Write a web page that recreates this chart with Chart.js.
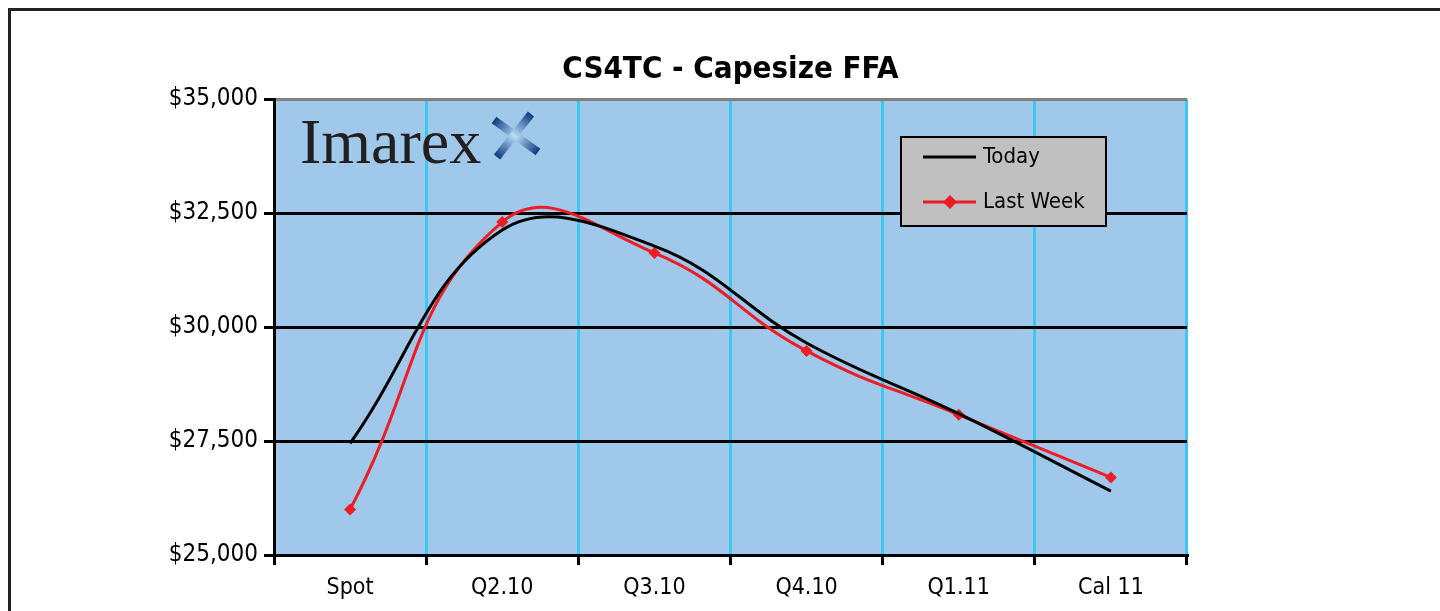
<!DOCTYPE html>
<html>
<head>
<meta charset="utf-8">
<script src="https://cdn.jsdelivr.net/npm/chart.js@4"></script>
<style>
  html, body { margin: 0; padding: 0; background: #ffffff; }
  #wrap { width: 1440px; height: 611px; position: relative; }
</style>
</head>
<body>
<div id="wrap"><canvas id="ffa-chart" width="1440" height="611"></canvas></div>
<script>
// ===== CS4TC - Capesize FFA curve =====

const categories = ['Spot', 'Q2.10', 'Q3.10', 'Q4.10', 'Q1.11', 'Cal 11'];
const todayValues = [27450, 32125, 31775, 29650, 28100, 26400];
const lastWeekValues = [26000, 32300, 31625, 29475, 28075, 26700];
const yTicks = [25000, 27500, 30000, 32500, 35000];
const chartTitle = 'CS4TC - Capesize FFA';

const NARROW = "'Liberation Sans Narrow', 'DejaVu Sans Condensed', 'Arial Narrow', sans-serif";
const RED = '#ee1c24';

// fond bleu + cadre exterieur
const backdrop = {
    id: 'backdrop',
    beforeDraw(chart) {
        const { ctx, chartArea: a } = chart;
        ctx.save();
        ctx.fillStyle = '#a0c8ea';
        ctx.fillRect(a.left, a.top, a.right - a.left, a.bottom - a.top);
        ctx.strokeStyle = '#222222';
        ctx.lineWidth = 3;
        ctx.beginPath();
        ctx.moveTo(9.5, 640);
        ctx.lineTo(9.5, 9.5);
        ctx.lineTo(1440, 9.5);
        ctx.stroke();
        // titre centre sur la zone du graphe
        ctx.fillStyle = '#000';
        ctx.font = 'bold 31px ' + NARROW;
        ctx.textAlign = 'center';
        ctx.textBaseline = 'middle';
        ctx.fillText(chartTitle, (a.left + a.right) / 2, 70);
        ctx.restore();
    }
};

function crossArm(ctx, x1, y1, x2, y2) {
    const g = ctx.createLinearGradient(x1, y1, x2, y2);
    g.addColorStop(0, '#0c3b80');
    g.addColorStop(0.5, '#b8dcf6');
    g.addColorStop(1, '#0c3b80');
    ctx.strokeStyle = g;
    ctx.beginPath();
    ctx.moveTo(x1, y1);
    ctx.lineTo(x2, y2);
    ctx.stroke();
}

// logo Imarex + legende
const overlay = {
    id: 'overlay',
    afterDraw(chart) {
        const ctx = chart.ctx;
        ctx.save();
        ctx.fillStyle = '#231f20';
        ctx.font = "64px 'Liberation Serif', 'DejaVu Serif', serif";
        ctx.textBaseline = 'alphabetic';
        ctx.textAlign = 'left';
        ctx.fillText('Imarex', 300, 163);

        // la croix
        ctx.lineCap = 'butt';
        ctx.lineWidth = 8;
        crossArm(ctx, 494, 120, 538, 152);
        crossArm(ctx, 531, 114, 497, 157);

        // legende
        ctx.fillStyle = '#c0c0c0';
        ctx.fillRect(900, 136, 207, 91);
        ctx.strokeStyle = '#000';
        ctx.lineWidth = 2;
        ctx.strokeRect(901, 137, 205, 89);

        ctx.lineWidth = 3;
        ctx.strokeStyle = '#000';
        ctx.beginPath();
        ctx.moveTo(923, 157); ctx.lineTo(976, 157);
        ctx.stroke();
        ctx.strokeStyle = RED;
        ctx.beginPath();
        ctx.moveTo(923, 202); ctx.lineTo(976, 202);
        ctx.stroke();
        ctx.fillStyle = RED;
        ctx.beginPath();
        ctx.moveTo(950, 195); ctx.lineTo(957, 202); ctx.lineTo(950, 209); ctx.lineTo(943, 202);
        ctx.closePath();
        ctx.fill();

        ctx.fillStyle = '#000';
        ctx.font = '22px ' + NARROW;
        ctx.textBaseline = 'middle';
        ctx.fillText('Today', 983, 157);
        ctx.fillText('Last Week', 983, 202);
        ctx.restore();
    }
};

new Chart(document.getElementById('ffa-chart'), {
    type: 'line',
    data: {
        labels: categories,
        datasets: [
            {
                label: 'Today',
                data: todayValues,
                borderColor: '#000000',
                borderWidth: 3,
                tension: 0.4,
                pointRadius: 0,
                fill: false
            },
            {
                label: 'Last Week',
                data: lastWeekValues,
                borderColor: RED,
                backgroundColor: RED,
                borderWidth: 3,
                tension: 0.45,
                pointStyle: 'rectRot',
                pointRadius: 6,
                pointBorderWidth: 0,
                fill: false
            }
        ]
    },
    options: {
        responsive: false,
        animation: false,
        layout: { padding: { left: 0, right: 253, top: 99, bottom: 0 } },
        plugins: {
            legend: { display: false },
            tooltip: { enabled: false },
            title: { display: false }
        },
        scales: {
            x: {
                offset: true,
                grid: {
                    offset: true,
                    lineWidth: 3,
                    color: (c) => c.index === 0 ? 'rgba(0,0,0,0)' : (c.index === categories.length ? '#808080' : '#3cc8f2'),
                    tickColor: '#000',
                    tickLength: 10
                },
                border: { color: '#000', width: 3 },
                ticks: {
                    color: '#000',
                    font: { family: NARROW, size: 23 },
                    padding: 9,
                    maxRotation: 0
                },
                afterFit(scale) { scale.height = 56; }
            },
            y: {
                min: yTicks[0],
                max: yTicks[yTicks.length - 1],
                afterBuildTicks(scale) { scale.ticks = yTicks.map(v => ({ value: v })); },
                grid: {
                    lineWidth: 3,
                    color: (c) => c.tick && c.tick.value === 35000 ? '#808080' : (c.tick && c.tick.value === 25000 ? 'rgba(0,0,0,0)' : '#000'),
                    tickColor: '#000',
                    tickLength: 10
                },
                border: { color: '#000', width: 3 },
                ticks: {
                    color: '#000',
                    font: { family: NARROW, size: 24 },
                    padding: 6,
                    callback: (v) => '$' + Number(v).toLocaleString('en-US')
                },
                afterFit(scale) { scale.width = 274; }
            }
        }
    },
    plugins: [backdrop, overlay]
});
</script>
</body>
</html>
